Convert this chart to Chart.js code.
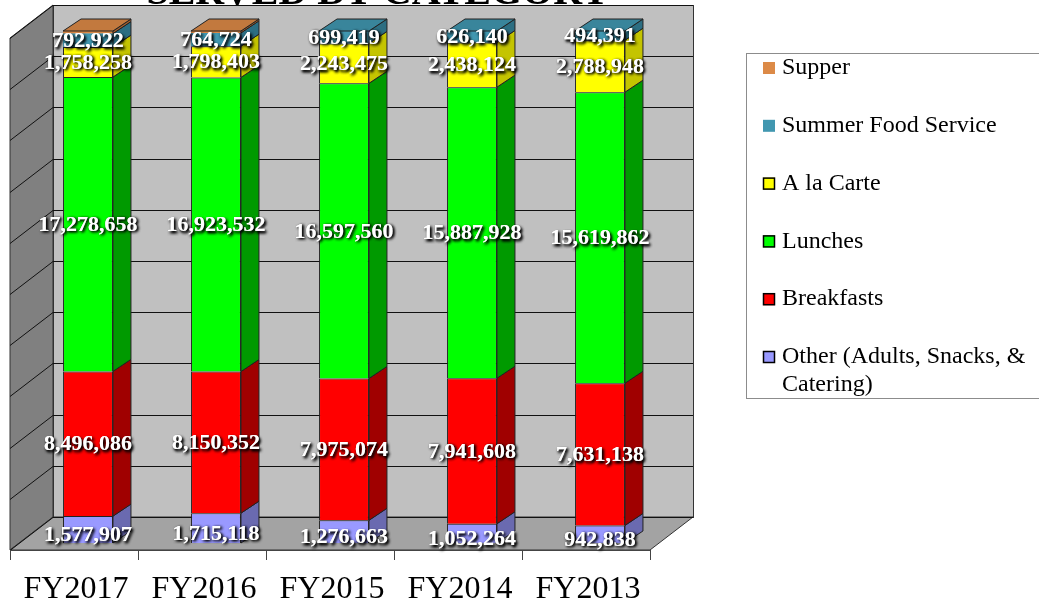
<!DOCTYPE html>
<html>
<head>
<meta charset="utf-8">
<title>Meals Served by Category</title>
<script src="https://cdn.jsdelivr.net/npm/chart.js@4.4.1/dist/chart.umd.min.js"></script>
<style>
  html, body { margin: 0; padding: 0; background: #fff; }
  canvas { display: block; }
</style>
</head>
<body>
<canvas id="mealsChart" width="1039" height="606"></canvas>
<script>
// Data
const years = ['FY2017', 'FY2016', 'FY2015', 'FY2014', 'FY2013'];
const other = [1577907, 1715118, 1276663, 1052264, 942838];
const breakfasts = [8496086, 8150352, 7975074, 7941608, 7631138];
const lunches = [17278658, 16923532, 16597560, 15887928, 15619862];
const aLaCarte = [1758258, 1798403, 2243475, 2438124, 2788948];
const summerFood = [792922, 764724, 699419, 626140, 494391];
const supper = [152000, 108000, 0, 0, 0]; // estimated from the thin top slice, not labelled
const gridSteps = [0, 10, 20, 30, 40, 50, 60, 70, 80, 90, 100];

const series = [
    { label: 'Other (Adults, Snacks, & Catering)', values: other, color: '#9999FF', side: '#6A6AB0', border: true },
    { label: 'Breakfasts', values: breakfasts, color: '#FF0000', side: '#A00000', border: true },
    { label: 'Lunches', values: lunches, color: '#00FF00', side: '#009A00', border: true },
    { label: 'A la Carte', values: aLaCarte, color: '#FFFF00', side: '#C4C400', border: true },
    { label: 'Summer Food Service', values: summerFood, color: '#4197B0', side: '#2C6E82', border: false },
    { label: 'Supper', values: supper, color: '#DC8A47', side: '#A8602C', border: false }
];

// each column is shown as 100%
const totals = years.map((_, i) => series.reduce((s, d) => s + d.values[i], 0));

const serif = '"Liberation Serif", "Times New Roman", serif';

// 3D look: bar depth, and where the back wall sits behind the bar fronts
const BAR_DX = 18, BAR_DY = 12;
const BACK_DX = 29, BACK_DY = 26;
const FLOOR_DX = 43, FLOOR_DY = 33;

const shade = (hex, f) => {
    const n = parseInt(hex.slice(1), 16);
    const r = Math.round(((n >> 16) & 255) * f), g = Math.round(((n >> 8) & 255) * f), b = Math.round((n & 255) * f);
    return 'rgb(' + r + ',' + g + ',' + b + ')';
};

const threeD = {
    id: 'threeD',
    beforeDatasetsDraw(chart) {
        const { ctx, chartArea: a, scales: { y } } = chart;
        const bl = a.left + BACK_DX, br = a.right + BACK_DX;
        const bt = y.getPixelForValue(100) - BACK_DY, bb = y.getPixelForValue(0) - BACK_DY;
        ctx.save();
        ctx.lineWidth = 1;
        ctx.strokeStyle = '#333';
        // back wall
        ctx.fillStyle = '#C0C0C0';
        ctx.fillRect(bl, bt, br - bl, bb - bt);
        ctx.strokeRect(bl + 0.5, bt + 0.5, br - bl, bb - bt);
        // left wall
        ctx.fillStyle = '#808080';
        ctx.beginPath();
        ctx.moveTo(bl - FLOOR_DX, bt + FLOOR_DY);
        ctx.lineTo(bl, bt);
        ctx.lineTo(bl, bb);
        ctx.lineTo(bl - FLOOR_DX, bb + FLOOR_DY);
        ctx.closePath();
        ctx.fill();
        ctx.stroke();
        // floor
        ctx.fillStyle = '#A3A3A3';
        ctx.beginPath();
        ctx.moveTo(bl - FLOOR_DX, bb + FLOOR_DY);
        ctx.lineTo(br - FLOOR_DX, bb + FLOOR_DY);
        ctx.lineTo(br, bb);
        ctx.lineTo(bl, bb);
        ctx.closePath();
        ctx.fill();
        ctx.stroke();
        // gridlines on both walls
        ctx.strokeStyle = '#111';
        gridSteps.forEach(v => {
            const yy = Math.round(y.getPixelForValue(v) - BACK_DY) + 0.5;
            ctx.beginPath();
            ctx.moveTo(bl - FLOOR_DX, yy + FLOOR_DY);
            ctx.lineTo(bl, yy);
            ctx.lineTo(br, yy);
            ctx.stroke();
        });
        // category tick marks under the floor
        const fy = bb + FLOOR_DY;
        const step = (a.right - a.left) / years.length;
        ctx.strokeStyle = '#444';
        ctx.beginPath();
        ctx.moveTo(bl - FLOOR_DX, fy + 0.5);
        ctx.lineTo(br - FLOOR_DX, fy + 0.5);
        for (let i = 0; i <= years.length; i++) {
            const xx = Math.round(bl - FLOOR_DX + i * step) + 0.5;
            ctx.moveTo(xx, fy);
            ctx.lineTo(xx, fy + 10);
        }
        ctx.stroke();
        ctx.restore();
    },
    afterDatasetsDraw(chart) {
        const { ctx } = chart;
        ctx.save();
        ctx.lineWidth = 1;
        ctx.strokeStyle = '#222';
        const topIndex = years.map((_, i) => {
            let t = 0;
            series.forEach((d, k) => { if (d.values[i] > 0) t = k; });
            return t;
        });
        series.forEach((d, k) => {
            chart.getDatasetMeta(k).data.forEach((bar, i) => {
                if (d.values[i] <= 0) return;
                const xl = bar.x - bar.width / 2, xr = bar.x + bar.width / 2;
                ctx.fillStyle = d.side;
                ctx.beginPath();
                ctx.moveTo(xr, bar.y);
                ctx.lineTo(xr + BAR_DX, bar.y - BAR_DY);
                ctx.lineTo(xr + BAR_DX, bar.base - BAR_DY);
                ctx.lineTo(xr, bar.base);
                ctx.closePath();
                ctx.fill();
                ctx.stroke();
                if (topIndex[i] === k) {
                    ctx.fillStyle = shade(d.color, 0.88);
                    ctx.beginPath();
                    ctx.moveTo(xl, bar.y);
                    ctx.lineTo(xl + BAR_DX, bar.y - BAR_DY);
                    ctx.lineTo(xr + BAR_DX, bar.y - BAR_DY);
                    ctx.lineTo(xr, bar.y);
                    ctx.closePath();
                    ctx.fill();
                    ctx.stroke();
                }
            });
        });
        ctx.restore();
    },
    afterDraw(chart) {
        const { ctx } = chart;
        ctx.save();
        // value labels, white with a dark halo
        ctx.font = 'bold 22px ' + serif;
        ctx.textAlign = 'center';
        ctx.textBaseline = 'middle';
        ctx.fillStyle = '#fff';
        ctx.shadowColor = 'rgba(0,0,0,0.95)';
        ctx.shadowBlur = 3;
        ctx.shadowOffsetX = 1.5;
        ctx.shadowOffsetY = 1.5;
        series.forEach((d, k) => {
            if (d.label === 'Supper') return;
            const nudge = k === 0 ? 6 : 1;
            chart.getDatasetMeta(k).data.forEach((bar, i) => {
                const v = d.values[i];
                if (v <= 0) return;
                const txt = v.toLocaleString('en-US');
                const yy = (bar.y + bar.base) / 2 + nudge;
                ctx.fillText(txt, bar.x, yy);
                ctx.fillText(txt, bar.x, yy);
            });
        });
        ctx.restore();

        // clipped title at the very top
        ctx.save();
        ctx.font = 'bold 40px ' + serif;
        ctx.fillStyle = '#000';
        ctx.textAlign = 'center';
        ctx.textBaseline = 'alphabetic';
        ctx.fillText('SERVED BY CATEGORY', 378, 4);
        ctx.restore();

        // legend box on the right
        ctx.save();
        ctx.strokeStyle = '#8C8C8C';
        ctx.lineWidth = 1;
        ctx.strokeRect(746.5, 53.5, 320, 345);
        ctx.font = '24px ' + serif;
        ctx.textAlign = 'left';
        ctx.textBaseline = 'middle';
        const items = series.slice().reverse();
        items.forEach((d, n) => {
            const cy = 68 + n * 57.8;
            ctx.fillStyle = d.color;
            ctx.fillRect(763, cy - 6, 12, 12);
            if (d.border) {
                ctx.strokeStyle = '#000';
                ctx.lineWidth = 1.5;
                ctx.strokeRect(763.5, cy - 5.5, 11, 11);
            }
            ctx.fillStyle = '#000';
            const words = d.label.split(' ');
            const lines = [];
            let line = '';
            words.forEach(w => {
                const test = line ? line + ' ' + w : w;
                if (ctx.measureText(test).width > 262 && line) {
                    lines.push(line);
                    line = w;
                } else {
                    line = test;
                }
            });
            lines.push(line);
            lines.forEach((t, j) => ctx.fillText(t, 782, cy + j * 28));
        });
        ctx.restore();
    }
};

const ctx = document.getElementById('mealsChart').getContext('2d');

new Chart(ctx, {
    type: 'bar',
    data: {
        labels: years,
        datasets: series.map(d => ({
            label: d.label,
            data: d.values.map((v, i) => v / totals[i] * 100),
            backgroundColor: d.color,
            borderColor: '#222',
            borderWidth: d.border ? 1 : 0,
            categoryPercentage: 1,
            barPercentage: 0.39
        }))
    },
    options: {
        responsive: false,
        devicePixelRatio: 1,
        animation: false,
        layout: {
            padding: { left: 24, right: 375, top: 31, bottom: 0 }
        },
        plugins: {
            legend: { display: false },
            tooltip: { enabled: false },
            title: { display: false }
        },
        scales: {
            x: {
                stacked: true,
                grid: { display: false, drawTicks: false },
                border: { display: false },
                ticks: {
                    color: '#000',
                    font: { family: serif, size: 32, lineHeight: 1 },
                    padding: 31,
                    labelOffset: -12,
                    maxRotation: 0
                },
                afterFit: scale => { scale.height = 63; }
            },
            y: {
                stacked: true,
                min: 0,
                max: 100,
                display: false
            }
        }
    },
    plugins: [threeD]
});
</script>
</body>
</html>
